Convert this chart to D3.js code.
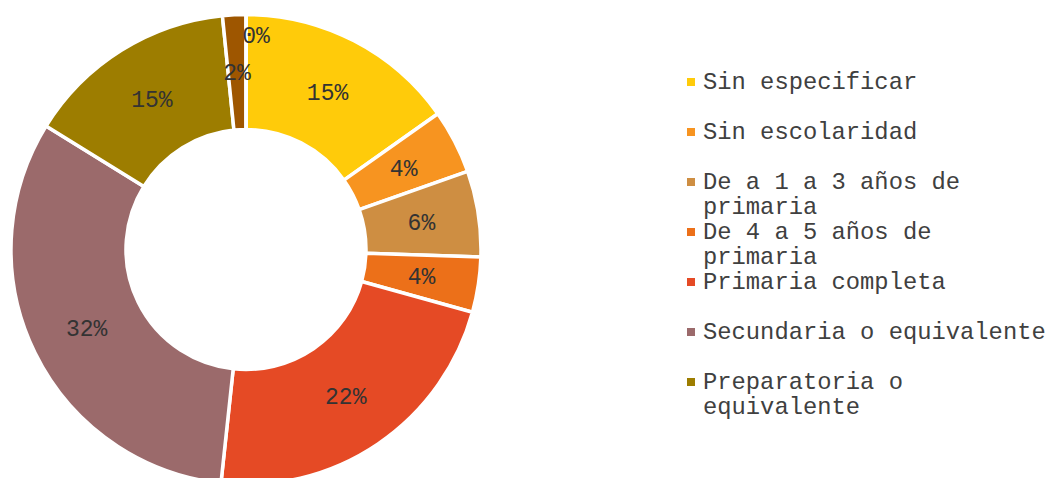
<!DOCTYPE html>
<html>
<head>
<meta charset="utf-8">
<script src="https://cdn.jsdelivr.net/npm/d3@7"></script>
<style>
body { margin: 0; background: #fff; }
svg { display: block; }
</style>
</head>
<body>
<div id="chart"></div>
<script>
// education level shares (percent)
var categories = ["Sin especificar", "Sin escolaridad", "De a 1 a 3 años de primaria",
    "De 4 a 5 años de primaria", "Primaria completa", "Secundaria o equivalente",
    "Preparatoria o equivalente", "Licenciatura", "Posgrado"];
var values = [15.2, 4.4, 5.9, 3.8, 22.4, 32.1, 14.6, 1.6, 0.0];
var colors = ["#FFCB0A", "#F79420", "#CE8E42", "#EC7019", "#E54A25", "#9B6A6B", "#9D7D00", "#9E5600", "#7F7F7F"];
var legendCount = 7; // only the first seven fit in the legend box

var width = 1050, height = 478;
var cx = 246, cy = 249.5;
var outerR = 235, innerR = 120;

var data = categories.map(function(c, i) {
    return {name: c, value: values[i], color: colors[i]};
});
var total = d3.sum(values);

var svg = d3.select("#chart")
    .append("svg")
    .attr("width", width)
    .attr("height", height);

var g = svg.append("g")
    .attr("transform", "translate(" + cx + "," + cy + ")");

var pie = d3.pie()
    .sort(null)
    .value(function(d) { return d.value; });

var arc = d3.arc().innerRadius(innerR).outerRadius(outerR);
var edgeArc = d3.arc().innerRadius(outerR - 40).outerRadius(outerR);

var arcs = pie(data);

g.selectAll(".slice")
    .data(arcs)
    .enter().append("path")
    .attr("class", "slice")
    .attr("d", arc)
    .attr("fill", function(d) { return d.data.color; })
    .attr("stroke", "#fff")
    .attr("stroke-width", 3.5)
    .attr("stroke-linejoin", "round");

var fmt = d3.format(".0%");

// data labels at the middle of the ring; empty slices get pushed outward
g.selectAll(".lbl")
    .data(arcs)
    .enter().append("text")
    .attr("class", "lbl")
    .attr("transform", function(d) {
        var p = d.data.value == 0 ? edgeArc.centroid(d) : arc.centroid(d);
        if (d.data.value == 0) p[0] += 10;
        return "translate(" + p[0] + "," + p[1] + ")";
    })
    .attr("text-anchor", "middle")
    .attr("dy", "0.35em")
    .attr("font-family", "'Courier New', 'Liberation Mono', monospace")
    .attr("font-size", "23px")
    .attr("fill", "#333")
    .text(function(d) { return fmt(d.data.value / total); });

// legend
var legend = svg.append("g")
    .attr("transform", "translate(687,81)");

var items = legend.selectAll(".item")
    .data(data.slice(0, legendCount))
    .enter().append("g")
    .attr("class", "item")
    .attr("transform", function(d, i) { return "translate(0," + (i * 50) + ")"; });

items.append("rect")
    .attr("x", 0)
    .attr("y", -3)
    .attr("width", 8)
    .attr("height", 8)
    .attr("fill", function(d) { return d.color; });

function wrap(str, maxChars) {
    var words = str.split(" "), lines = [], cur = "";
    words.forEach(function(w) {
        var test = cur ? cur + " " + w : w;
        if (test.length > maxChars && cur) {
            lines.push(cur);
            cur = w;
        } else {
            cur = test;
        }
    });
    lines.push(cur);
    return lines;
}

items.append("text")
    .attr("x", 16)
    .attr("font-family", "'Courier New', 'Liberation Mono', monospace")
    .attr("font-size", "23.8px")
    .attr("fill", "#404040")
    .each(function(d) {
        var t = d3.select(this);
        wrap(d.name, 24).forEach(function(line, k) {
            t.append("tspan")
                .attr("x", 16)
                .attr("y", k * 25)
                .attr("dy", "0.35em")
                .text(line);
        });
    });
</script>
</body>
</html>
